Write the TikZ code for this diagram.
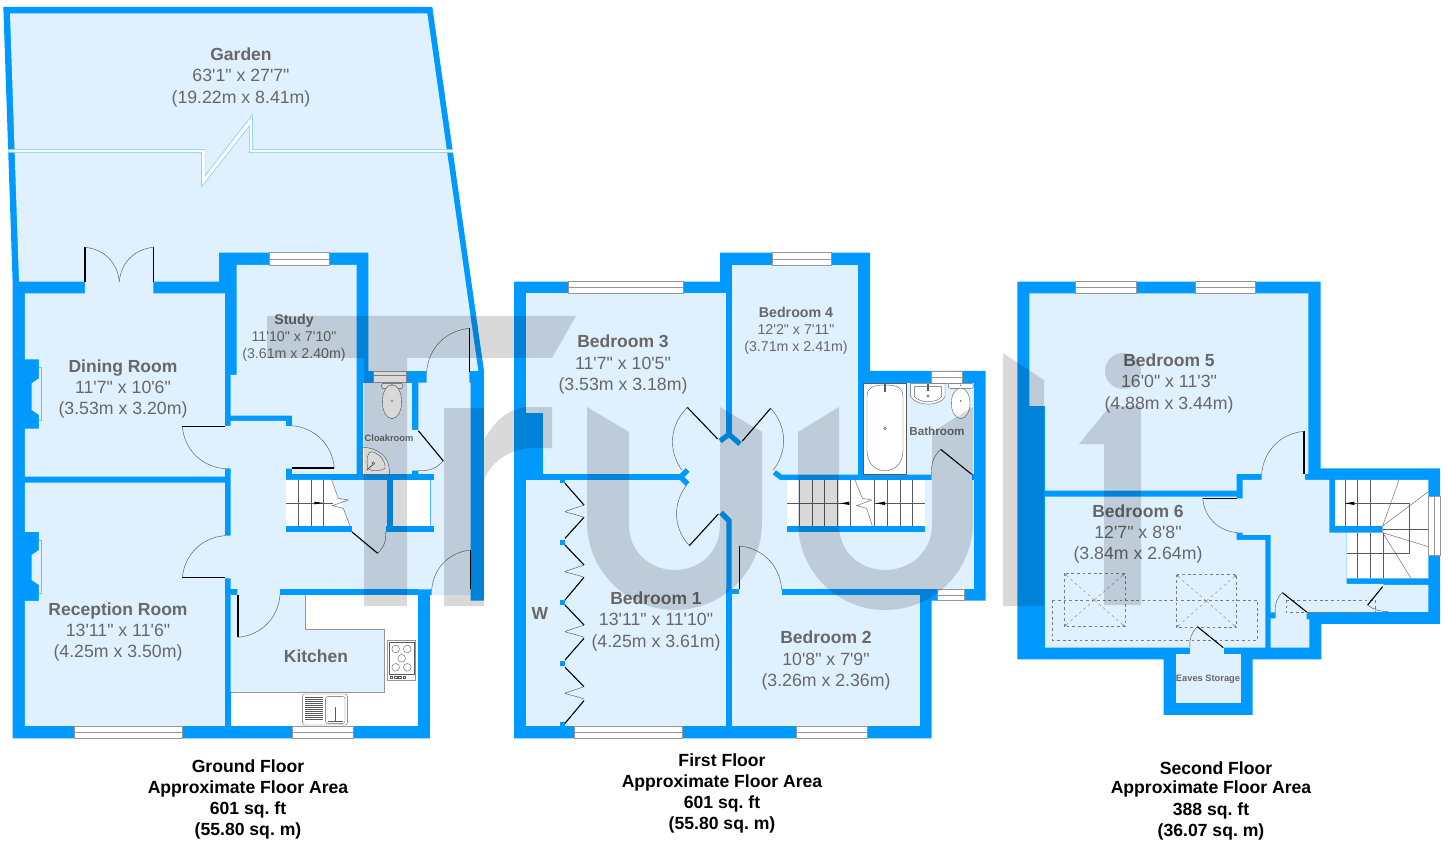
\documentclass[tikz,border=0pt]{standalone}
\usepackage{fontspec}
\setmainfont{Liberation Sans}[Ligatures=TeXOff]
\usetikzlibrary{arrows.meta}
\definecolor{wallc}{RGB}{0,153,255}
\definecolor{roomc}{RGB}{223,240,254}
\definecolor{textc}{RGB}{104,104,104}
\definecolor{fixc}{RGB}{90,90,90}
\definecolor{winc}{RGB}{150,150,150}
\tikzset{
 zg/.style={shift={(0,240)},x=0.33333pt,y=-0.33333pt},
 zf/.style={shift={(505,240)},x=0.33333pt,y=-0.33333pt},
 zs/.style={shift={(1010,270)},x=0.33333pt,y=-0.33333pt},
 wall/.style={fill=wallc},
 room/.style={fill=roomc},
 leaf/.style={draw=black,line width=1.1pt},
 swing/.style={draw=fixc,line width=0.45pt},
 fix/.style={draw=fixc,line width=0.4pt,fill=white},
 tread/.style={draw=fixc,line width=0.4pt},
 stub/.style={draw=wallc,line width=5.2pt},
 wmark/.style={fill=black,opacity=0.15},
 txt/.style={text=textc,inner sep=0pt,text height=0.72em,text depth=0.18em},
 nameL/.style={txt,yshift=-4pt,font=\bfseries\fontsize{17.5}{20}\selectfont},
 dimL/.style={txt,yshift=-4pt,font=\fontsize{17.7}{20}\selectfont},
 nameM/.style={txt,yshift=-3pt,font=\bfseries\fontsize{14.2}{16}\selectfont},
 dimM/.style={txt,yshift=-3pt,font=\fontsize{14.2}{16}\selectfont},
 nameS/.style={txt,yshift=-1.5pt,font=\bfseries\fontsize{9.3}{11}\selectfont},
 nameB/.style={txt,yshift=-2pt,font=\bfseries\fontsize{11.7}{13}\selectfont},
 capL/.style={inner sep=0pt,yshift=-3.4pt,text height=0.72em,text depth=0.18em,font=\bfseries\fontsize{17.6}{19}\selectfont\frenchspacing},
 dashL/.style={draw=fixc!80,line width=0.4pt,dash pattern=on 2.8pt off 2.8pt},
 ptr/.style={draw=fixc!80,line width=0.35pt,dash pattern=on 2.8pt off 3pt,-{Stealth[length=3pt,width=2.5pt,open]}},
}
\newcommand\winH[3]{\filldraw[fill=white,draw=winc,line width=0.6pt] (#1,#3) rectangle (#2,#3+37);\draw[winc,line width=0.6pt] (#1,#3+18.5) -- (#2,#3+18.5);}
\newcommand\door[7]{\draw[leaf] (#1,#2) -- (#3,#4);\draw[swing] (#3,#4) to[bend #7] (#5,#6);}
\begin{document}
\begin{tikzpicture}[x=1pt,y=-1pt]
\useasboundingbox (0,0) rectangle (1449,842);
\fill[white] (0,0) rectangle (1449,842);
% ================= GROUND FLOOR
\begin{scope}[zg]
\fill[wall] (10,-699) -- (1297,-699) -- (1452,393) -- (1452,1082) -- (1412,1082) -- (1412,1065) -- (1290,1065) -- (1290,1495) -- (38,1495) -- (38,130) -- cycle;
\fill[room] (30,-680) -- (1282,-680) -- (1435,393) -- (1105,393) -- (1105,38) -- (657,38) -- (657,125) -- (460,125) -- (460,165) -- (255,165) -- (255,125) -- (57,125) -- cycle;
% dining, reception
\fill[room] (75,160) -- (675,160) -- (675,710) -- (75,710) -- (75,566) -- (117,566) -- (117,525) -- (95,510) -- (95,430) -- (117,415) -- (117,358) -- (75,358) -- cycle;
\fill[room] (75,728) -- (675,728) -- (675,1458) -- (75,1458) -- (75,1083) -- (117,1083) -- (117,1035) -- (95,1020) -- (95,945) -- (117,930) -- (117,876) -- (75,876) -- cycle;
\draw[wallc!60,line width=0.4pt] (117,382) -- (125,382) -- (125,542) -- (117,542);
\draw[wallc!60,line width=0.4pt] (117,900) -- (125,900) -- (125,1060) -- (117,1060);
% study
\fill[room] (710,75) -- (1070,75) -- (1070,703) -- (875,703) -- (875,527) -- (692,527) -- (692,405) -- (710,405) -- cycle;
% hall
\fill[room] (692,543) -- (858,543) -- (858,557) -- (880,557) -- (880,686) -- (858,686) -- (858,876) -- (1302,876) -- (1302,858) -- (1292,858) -- (1292,720) -- (1302,720) -- (1302,703) -- (1255,703) -- (1255,692) -- (1232,692) -- (1232,570) -- (1255,570) -- (1255,428) -- (1280,428) -- (1280,385) -- (1408,385) -- (1408,428) -- (1412,428) -- (1412,1065) -- (1295,1065) -- (1295,1048) -- (840,1048) -- (840,1065) -- (712,1065) -- (712,1048) -- (692,1048) -- (692,1015) -- (670,1015) -- (670,887) -- (692,887) -- (692,685) -- (670,685) -- (670,558) -- (692,558) -- cycle;
% walls over hall
\fill[wall] (858,527) rectangle (875,557);
\fill[wall] (858,686) rectangle (875,703);
\fill[wall] (858,703) rectangle (1302,720);
\fill[wall] (858,858) rectangle (1056,876);
\fill[wall] (1157,858) rectangle (1302,876);
% cloakroom
\fill[room] (1088,430) rectangle (1237,703);
% stairs + cupboard + void
\fill[room] (995,720) rectangle (1160,880);
\fill[wall] (1056,858) -- (1056,876) -- (858,876) -- (858,858) -- cycle;
\fill[wall] (1160,720) rectangle (1180,876);
\fill[wall] (1157,858) rectangle (1180,876);
\fill[white] (1180,720) rectangle (1292,858);
\draw[wallc!70,line width=0.4pt] (1292,720) -- (1292,858);
\filldraw[fill=white,draw=none] (858,720) -- (995,720) -- (1050,858) -- (858,858) -- cycle;
\foreach \xx in {895,933,971} {\draw[tread] (\xx,720) -- (\xx,858);}
\draw[tread] (858,790) -- (1000,790);
\draw[tread] (995,720) -- (1015,775) -- (1045,780) -- (997,797) -- (1030,805) -- (1050,858);
\fill[black] (943,785) -- (970,789) -- (943,793) -- cycle;
% kitchen
\fill[white] (692,1065) rectangle (1255,1458);
\fill[room] (692,1060) -- (917,1060) -- (917,1167) -- (1153,1167) -- (1153,1356) -- (692,1356) -- cycle;
\draw[winc,line width=0.5pt] (917,1065) -- (917,1167) -- (1153,1167) -- (1153,1356) -- (692,1356);
\fill[wall] (840,1048) rectangle (1255,1065);
\fill[wall] (692,1048) rectangle (712,1065);
% windows
\winH{224}{547}{1459}
\winH{878}{1060}{1459}
\winH{808}{988}{38}
% toilet
\filldraw[fix,draw=winc] (1120,395) rectangle (1218,428);
\draw[winc,line width=0.4pt] (1120,405) -- (1218,405);
\filldraw[fix] (1148,430) -- (1205,430) to[bend left=60] (1205,446) -- (1148,446) to[bend left=60] (1148,430);
\filldraw[fix] (1176,485) ellipse [x radius=29,y radius=51];
\fill[fixc] (1176,483) circle (2.5);
\fill[fixc] (1176,436) circle (2);
% corner basin
\filldraw[fix] (1088,703) -- (1088,622) .. controls (1130,622) and (1168,650) .. (1168,690) -- (1168,703) -- cycle;
\draw[fix] (1103,685) .. controls (1098,650) and (1105,635) .. (1115,635) .. controls (1140,640) and (1158,665) .. (1155,685) .. controls (1135,695) and (1115,695) .. (1103,685) -- cycle;
\draw[fixc,line width=0.5pt] (1120,670) circle (4);
\draw[fixc,line width=0.8pt] (1100,690) -- (1118,675);
% hob
\filldraw[fix,draw=winc] (1162,1202) rectangle (1247,1322);
\draw[fix] (1168,1208) rectangle (1242,1302);
\foreach \cx/\cy in {1187/1227,1222/1227,1205/1255,1187/1282,1222/1282} {\draw[fix] (\cx,\cy) circle (11.5);}
\foreach \cx in {1170,1183,1196,1209} {\draw[fixc,line width=0.4pt] (\cx,1309) rectangle (\cx+8,1316);}
% sink
\filldraw[fix,rounded corners=2pt] (908,1362) rectangle (1042,1455);
\foreach \yy in {1372,1378,...,1438} {\draw[fixc,line width=0.5pt] (915,\yy) -- (968,\yy);}
\draw[fix,rounded corners=2pt] (977,1370) rectangle (1035,1450);
\draw[fixc,line width=0.6pt] (1007,1402) -- (1007,1445);
\draw[fixc,line width=0.6pt] (985,1443) -- (1030,1443);
% doors
\door{255}{125}{255}{22}{358}{125}{left=40}
\door{460}{125}{460}{22}{358}{125}{right=40}
\door{675}{560}{547}{560}{675}{686}{right=40}
\door{875}{684}{1003}{684}{875}{557}{right=40}
\door{1255}{572}{1330}{663}{1255}{692}{left=25}
\door{1056}{876}{1133}{940}{1157}{876}{right=25}
\door{675}{1013}{547}{1013}{675}{887}{left=40}
\door{714}{1065}{714}{1192}{840}{1065}{right=40}
\door{1412}{1046}{1412}{930}{1295}{1050}{right=40}
\door{1408}{395}{1408}{265}{1280}{395}{right=40}
\end{scope}
% garden break line
\filldraw[fill=white,draw=none] (8.3,149.3) -- (205,149.3) -- (205,175.7) -- (252.3,115) -- (252.3,149.3) -- (453,149.3) -- (453,152.7) -- (249.3,152.7) -- (249.3,126) -- (201.7,186.7) -- (201.7,152.7) -- (8.3,152.7) -- cycle;
\draw[wallc!60,line width=0.45pt] (8.3,149.3) -- (205,149.3) -- (205,175.7) -- (252.3,115) -- (252.3,149.3) -- (453,149.3);
\draw[wallc!60,line width=0.45pt] (453,152.7) -- (249.3,152.7) -- (249.3,126) -- (201.7,186.7) -- (201.7,152.7) -- (8.3,152.7);
% ================= FIRST FLOOR
\begin{scope}[zf]
\fill[wall] (27,125) -- (645,125) -- (645,38) -- (1095,38) -- (1095,393) -- (1442,393) -- (1442,1082) -- (1280,1082) -- (1280,1495) -- (27,1495) -- cycle;
\fill[room] (63,160) rectangle (663,1458);
\fill[room] (681,75) rectangle (1058,703);
\fill[room] (1075,430) rectangle (1408,1048);
\fill[room] (650,590) rectangle (1058,720);
\fill[room] (650,715) rectangle (1408,1048);
\fill[room] (681,1040) rectangle (830,1070);
\fill[room] (681,1065) rectangle (1245,1458);
\fill[wall] (63,520) rectangle (113,703);
\fill[wall] (63,703) rectangle (530,720);
\draw[stub,line cap=butt,line join=miter] (548,690) -- (527,711) -- (548,732);
\draw[stub,line cap=butt,line join=miter] (645,603) -- (672,583) -- (705,612);
\draw[stub,line cap=butt,line join=miter] (648,818) -- (672,842) -- (672,1063);
\draw[stub,line cap=butt] (808,697) -- (828,712) -- (1280,712);
\fill[wall] (681,1048) rectangle (702,1063);
\fill[wall] (830,1048) rectangle (1298,1065);
\fill[wall] (1245,1048) rectangle (1280,1082);
% stairs
\fill[white] (845,720) rectangle (1260,858);
\fill[wall] (845,858) rectangle (1260,876);
\foreach \xx in {883,921,959,998,1037,1108,1147,1185,1223} {\draw[tread] (\xx,720) -- (\xx,858);}
\draw[tread] (845,790) -- (1033,790);
\draw[tread] (1108,790) -- (1260,790);
\draw[tread] (1050,720) -- (1072,775) -- (1100,780) -- (1055,797) -- (1085,805) -- (1102,858);
\fill[black] (1005,790) -- (1033,785) -- (1033,795) -- cycle;
\fill[black] (1112,790) -- (1140,785) -- (1140,795) -- cycle;
% windows
\winH{190}{535}{124}
\winH{803}{980}{38}
\winH{207}{532}{1459}
\winH{875}{1088}{1459}
\filldraw[fill=white,draw=winc,line width=0.6pt] (1278,395) rectangle (1372,430);
\draw[winc,line width=0.6pt] (1278,412) -- (1372,412);
\filldraw[fill=white,draw=winc,line width=0.6pt] (1298,1048) rectangle (1378,1082);
\draw[winc,line width=0.6pt] (1298,1065) -- (1378,1065);
% bath
\filldraw[fix] (1075,430) rectangle (1205,703);
\draw[fix] (1086,470) .. controls (1086,445) and (1100,435) .. (1140,435) .. controls (1180,435) and (1194,445) .. (1194,470) -- (1194,630) .. controls (1194,670) and (1170,692) .. (1140,692) .. controls (1110,692) and (1086,670) .. (1086,630) -- cycle;
\draw[fixc,line width=0.5pt] (1140,565) circle (4);
\fill[fixc] (1137,433) rectangle (1143,456);
% basin
\filldraw[fix] (1217,430) -- (1320,430) -- (1320,470) .. controls (1305,500) and (1235,500) .. (1217,470) -- cycle;
\draw[fix] (1228,440) -- (1310,440) -- (1310,470) .. controls (1295,490) and (1245,490) .. (1228,470) -- cycle;
\fill[fixc] (1265,433) rectangle (1273,452);
\draw[fixc,line width=0.5pt] (1269,468) circle (3.5);
% toilet
\filldraw[fix,rounded corners=2pt] (1330,430) rectangle (1405,445);
\filldraw[fix] (1367,490) ellipse [x radius=28,y radius=46];
\fill[fixc] (1367,483) circle (2.5);
\fill[fixc] (1367,436) circle (2);
% wardrobe
\foreach \yy in {722,908,1088,1270,1455} {\fill[wallc] (165,\yy-8) rectangle (181,\yy+8);}
\foreach \a/\b/\c/\d in {180/730/237/795,237/832/180/895,180/915/237/975,237/1012/180/1080,180/1095/237/1155,237/1195/180/1260,180/1282/237/1340,237/1382/180/1450} {\draw[leaf] (\a,\b) -- (\c,\d);}
\foreach \p in {795,975,1155,1340} {\pgfmathsetmacro\q{\p+37}\draw[swing] (237,\p) .. controls (210,\p+10) and (180,\p+18) .. (180,\p+20) .. controls (180,\p+22) and (210,\p+27) .. (237,\q);}
% doors
\door{638}{597}{547}{502}{530}{690}{right=40}
\door{712}{603}{797}{505}{805}{690}{left=40}
\door{640}{822}{553}{917}{545}{735}{left=40}
\door{704}{1048}{704}{918}{830}{1048}{left=40}
\door{1400}{703}{1307}{628}{1280}{703}{right=25}
\fill[wall] (1400,703) rectangle (1408,720);
\end{scope}
% ================= SECOND FLOOR
\begin{scope}[zs]
\fill[wall] (22,35) -- (932,35) -- (932,595) -- (1290,595) -- (1290,1062) -- (934,1062) -- (934,1168) -- (728,1168) -- (728,1335) -- (461,1335) -- (461,1168) -- (22,1168) -- cycle;
\fill[room] (58,70) -- (895,70) -- (895,612) -- (680,612) -- (680,662) -- (105,662) -- (105,408) -- (58,408) -- cycle;
\fill[room] (105,680) -- (680,680) -- (680,810) -- (766,810) -- (766,1133) -- (105,1133) -- cycle;
\fill[room] (540,1125) rectangle (642,1156);
\fill[room] (497,1152) rectangle (693,1300);
\fill[room] (698,630) -- (755,630) -- (755,607) -- (885,607) -- (885,630) -- (958,630) -- (958,788) -- (1010,788) -- (1010,942) -- (1120,942) -- (1120,945) -- (1255,945) -- (1255,1026) -- (890,1026) -- (890,1048) -- (898,1048) -- (898,1133) -- (782,1133) -- (782,1045) -- (797,1045) -- (797,1027) -- (782,1027) -- (782,795) -- (698,795) -- (698,788) -- (675,788) -- (675,685) -- (698,685) -- cycle;
% stairs
\fill[white] (975,630) -- (1255,630) -- (1255,925) -- (1010,925) -- (1010,788) -- (1118,788) -- (1118,768) -- (975,768) -- cycle;
\foreach \xx in {1005,1043,1082} {\draw[tread] (\xx,630) -- (\xx,768);}
\foreach \xx in {1043,1082} {\draw[tread] (\xx,788) -- (\xx,925);}
\draw[tread] (1120,788) -- (1120,925);
\draw[tread] (1005,700) -- (1197,700) -- (1197,850) -- (1010,850);
\draw[tread] (1118,768) -- (1167,630);
\draw[tread] (1118,768) -- (1255,665);
\draw[tread] (1118,778) -- (1255,778);
\draw[tread] (1118,788) -- (1255,830);
\draw[tread] (1118,788) -- (1203,925);
\fill[black] (1005,700) -- (1033,695) -- (1033,705) -- cycle;
% windows
\winH{197}{378}{34}
\winH{555}{736}{34}
\filldraw[fill=white,draw=winc,line width=0.6pt] (1255,680) rectangle (1290,855);
\draw[winc,line width=0.6pt] (1272,680) -- (1272,855);
% dashed
\draw[dashL] (127,990) rectangle (742,1110);
\draw[dashL] (828,990) rectangle (1097,1028);
\draw[dashL] (162,910) rectangle (345,1070);
\draw[dashL] (498,914) rectangle (680,1073);
\draw[ptr] (253,990) -- (162,910);
\draw[ptr] (253,990) -- (345,910);
\draw[ptr] (253,990) -- (162,1070);
\draw[ptr] (253,990) -- (345,1070);
\draw[ptr] (589,993) -- (498,914);
\draw[ptr] (589,993) -- (680,914);
\draw[ptr] (589,993) -- (498,1073);
\draw[ptr] (589,993) -- (680,1073);
% doors
\door{882}{612}{882}{484}{755}{612}{right=40}
\door{680}{685}{578}{685}{682}{788}{right=40}
\door{890}{1026}{817}{968}{796}{1027}{right=25}
\door{640}{1133}{562}{1070}{540}{1133}{right=25}
\door{1118}{950}{1073}{1005}{1135}{1024}{right=20}
\end{scope}
% ================= LABELS
\node[nameL] (garden) at (241,54) {Garden};
\node[dimL] (gardenA) at (241,75) {63'1" x 27'7"};
\node[dimL] (gardenB) at (241,97) {(19.22m x 8.41m)};
\node[nameL] (dining) at (123,366) {Dining Room};
\node[dimL] (diningA) at (123,387) {11'7" x 10'6"};
\node[dimL] (diningB) at (123,408) {(3.53m x 3.20m)};
\node[nameM] (study) at (294,319) {Study};
\node[dimM] (studyA) at (294,336) {11'10" x 7'10"};
\node[dimM] (studyB) at (294,353) {(3.61m x 2.40m)};
\node[nameS] (cloak) at (389,437) {Cloakroom};
\node[nameL] (recep) at (118,609) {Reception Room};
\node[dimL] (recepA) at (118,630) {13'11" x 11'6"};
\node[dimL] (recepB) at (118,651) {(4.25m x 3.50m)};
\node[nameL] (kitchen) at (316,656) {Kitchen};
\node[nameL] (bedthree) at (623,341) {Bedroom 3};
\node[dimL] (bedthreeA) at (623,363) {11'7" x 10'5"};
\node[dimL] (bedthreeB) at (623,384) {(3.53m x 3.18m)};
\node[nameM] (bedfour) at (796,312) {Bedroom 4};
\node[dimM] (bedfourA) at (796,329) {12'2" x 7'11"};
\node[dimM] (bedfourB) at (796,346) {(3.71m x 2.41m)};
\node[nameB] (bath) at (937,431) {Bathroom};
\node[nameL] (bedone) at (656,598) {Bedroom 1};
\node[dimL] (bedoneA) at (656,619) {13'11" x 11'10"};
\node[dimL] (bedoneB) at (656,641) {(4.25m x 3.61m)};
\node[nameL] (wlab) at (540,613) {W};
\node[nameL] (bedtwo) at (826,637) {Bedroom 2};
\node[dimL] (bedtwoA) at (826,659) {10'8" x 7'9"};
\node[dimL] (bedtwoB) at (826,680) {(3.26m x 2.36m)};
\node[nameL] (bedfive) at (1169,360) {Bedroom 5};
\node[dimL] (bedfiveA) at (1169,381) {16'0" x 11'3"};
\node[dimL] (bedfiveB) at (1169,403) {(4.88m x 3.44m)};
\node[nameL] (bedsix) at (1138,511) {Bedroom 6};
\node[dimL] (bedsixA) at (1138,532) {12'7" x 8'8"};
\node[dimL] (bedsixB) at (1138,553) {(3.84m x 2.64m)};
\node[nameS] (eaves) at (1208,677) {Eaves Storage};
% captions
\node[capL] (gA) at (248,766) {Ground Floor};
\node[capL] (gB) at (248,787) {Approximate Floor Area};
\node[capL] (gC) at (248,808) {601 sq. ft};
\node[capL] (gD) at (248,829) {(55.80 sq. m)};
\node[capL] (fA) at (722,760) {First Floor};
\node[capL] (fB) at (722,781) {Approximate Floor Area};
\node[capL] (fC) at (722,802) {601 sq. ft};
\node[capL] (fD) at (722,823) {(55.80 sq. m)};
\node[capL] (sA) at (1216,768) {Second Floor};
\node[capL] (sB) at (1211,787) {Approximate Floor Area};
\node[capL] (sC) at (1211,809) {388 sq. ft};
\node[capL] (sD) at (1211,830) {(36.07 sq. m)};
% ================= WATERMARK
\fill[wmark] (267,316) -- (576,316) -- (552,358) -- (407,358) -- (407,606) -- (364,606) -- (364,358) -- (267,358) -- cycle;
\fill[wmark] (444,408) -- (484,408) -- (484,440) .. controls (495,420) and (510,407) .. (530,407) -- (552,407) -- (552,448) -- (530,448) .. controls (505,450) and (490,465) .. (484,480) -- (484,606) -- (444,606) -- cycle;
\fill[wmark] (587,407) -- (629,432) -- (629,525) .. controls (629,552) and (650,570) .. (675,570) .. controls (700,570) and (720,552) .. (720,525) -- (720,407) -- (762,432) -- (762,522) .. controls (762,572) and (722,610) .. (675,610) .. controls (628,610) and (587,572) .. (587,522) -- cycle;
\fill[wmark] (798,432) -- (839,407) -- (839,525) .. controls (839,552) and (860,570) .. (885,570) .. controls (910,570) and (932,552) .. (932,525) -- (932,432) -- (973,407) -- (973,522) .. controls (973,572) and (933,610) .. (885,610) .. controls (838,610) and (798,572) .. (798,522) -- cycle;
\fill[wmark] (1003,353) -- (1044,380) -- (1044,606) -- (1003,606) -- cycle;
\fill[wmark] (1141,406) -- (1141,605) -- (1104,605) -- (1104,444) -- (1079,444) -- (1110,406) -- cycle;
\fill[wmark] (1123,371) circle (18);
\end{tikzpicture}
\end{document}
